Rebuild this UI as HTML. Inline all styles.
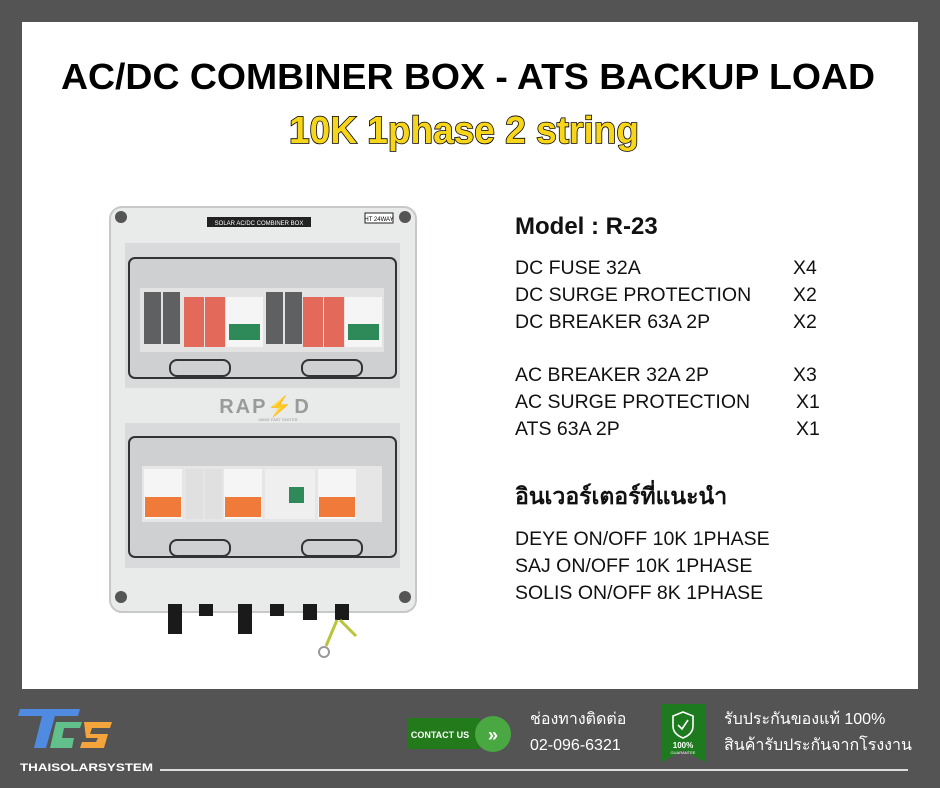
<!DOCTYPE html>
<html><head><meta charset="utf-8"><style>
html,body{margin:0;padding:0;background:#545454;}
svg{display:block}
text{font-family:"Liberation Sans","Noto Sans CJK SC",sans-serif;}
.th{font-family:"Liberation Sans","Noto Sans CJK SC","WenQuanYi Zen Hei",sans-serif;}
</style></head><body>
<svg width="940" height="788" viewBox="0 0 940 788" xmlns="http://www.w3.org/2000/svg">
<rect width="940" height="788" fill="#545454"/>
<rect x="22" y="22" width="896" height="667" fill="#fff"/>
<text x="468" y="89" text-anchor="middle" font-size="36" font-weight="bold" textLength="814" lengthAdjust="spacingAndGlyphs" fill="#000">AC/DC COMBINER BOX - ATS BACKUP LOAD</text>
<text x="464" y="143" text-anchor="middle" font-size="38" font-weight="bold" textLength="350" lengthAdjust="spacingAndGlyphs" fill="#f7d51b" stroke="#000" stroke-width="1.6" paint-order="stroke">10K 1phase 2 string</text>

<!-- box -->
<rect x="110" y="207" width="306" height="405" rx="12" fill="#e9eaea" stroke="#c7c8c8" stroke-width="2"/>
<circle cx="121" cy="217" r="6" fill="#555"/><circle cx="405" cy="217" r="6" fill="#555"/>
<circle cx="121" cy="597" r="6" fill="#555"/><circle cx="405" cy="597" r="6" fill="#555"/>
<rect x="207" y="217" width="104" height="10" fill="#222"/>
<text x="259" y="225" text-anchor="middle" font-size="6" fill="#fff">SOLAR AC/DC COMBINER BOX</text>
<rect x="365" y="213" width="28" height="10" fill="#fff" stroke="#222"/>
<text x="379" y="221" text-anchor="middle" font-size="6">HT 24WAY</text>
<rect x="125" y="243" width="275" height="145" fill="#d9dadb"/>
<rect x="129" y="258" width="267" height="120" rx="6" fill="#cfd0d1" stroke="#333" stroke-width="2"/>
<rect x="140" y="288" width="244" height="64" fill="#e3e3e3"/>
<g>
<rect x="144" y="292" width="17" height="52" fill="#5e6062"/><rect x="163" y="292" width="17" height="52" fill="#5e6062"/>
<rect x="184" y="297" width="20" height="50" fill="#e36a5a"/><rect x="205" y="297" width="20" height="50" fill="#e36a5a"/>
<rect x="226" y="297" width="37" height="50" fill="#f5f5f5"/><rect x="229" y="324" width="31" height="16" fill="#2f8a5a"/>
<rect x="266" y="292" width="17" height="52" fill="#5e6062"/><rect x="285" y="292" width="17" height="52" fill="#5e6062"/>
<rect x="303" y="297" width="20" height="50" fill="#e36a5a"/><rect x="324" y="297" width="20" height="50" fill="#e36a5a"/>
<rect x="345" y="297" width="37" height="50" fill="#f5f5f5"/><rect x="348" y="324" width="31" height="16" fill="#2f8a5a"/>
</g>
<rect x="170" y="360" width="60" height="16" rx="7" fill="none" stroke="#333" stroke-width="2"/>
<rect x="302" y="360" width="60" height="16" rx="7" fill="none" stroke="#333" stroke-width="2"/>
<text x="265" y="413" text-anchor="middle" font-size="20" font-weight="bold" fill="#9a9a9a" letter-spacing="2">RAP⚡D</text>
<text x="278" y="421" text-anchor="middle" font-size="4" fill="#999">MAKE FAST FASTER</text>
<rect x="125" y="423" width="275" height="145" fill="#d9dadb"/>
<rect x="129" y="437" width="267" height="120" rx="6" fill="#cfd0d1" stroke="#333" stroke-width="2"/>
<rect x="142" y="466" width="240" height="56" fill="#e6e6e6"/>
<g>
<rect x="144" y="469" width="38" height="50" fill="#f5f5f5"/><rect x="145" y="497" width="36" height="20" fill="#f07a3a"/>
<rect x="186" y="469" width="17" height="50" fill="#e0e0e0"/><rect x="205" y="469" width="17" height="50" fill="#e0e0e0"/>
<rect x="224" y="469" width="38" height="50" fill="#f5f5f5"/><rect x="225" y="497" width="36" height="20" fill="#f07a3a"/>
<rect x="265" y="469" width="50" height="50" fill="#efefef"/><rect x="289" y="487" width="15" height="16" fill="#2f8a5a"/>
<rect x="318" y="469" width="38" height="50" fill="#f5f5f5"/><rect x="319" y="497" width="36" height="20" fill="#f07a3a"/>
</g>
<rect x="170" y="540" width="60" height="16" rx="7" fill="none" stroke="#333" stroke-width="2"/>
<rect x="302" y="540" width="60" height="16" rx="7" fill="none" stroke="#333" stroke-width="2"/>
<g fill="#1a1a1a">
<rect x="168" y="604" width="14" height="30"/><rect x="199" y="604" width="14" height="12"/>
<rect x="238" y="604" width="14" height="30"/><rect x="270" y="604" width="14" height="12"/>
<rect x="303" y="604" width="14" height="16"/><rect x="335" y="604" width="14" height="16"/>
</g>
<path d="M337 620 L326 646 M340 620 L356 636" stroke="#b9c43a" stroke-width="3" fill="none"/>
<circle cx="324" cy="652" r="5" fill="none" stroke="#999" stroke-width="2"/>

<!-- specs -->
<text x="515" y="234" font-size="24" font-weight="bold" fill="#111">Model : R-23</text>
<g font-size="19.5" fill="#111">
<text x="515" y="274">DC FUSE 32A</text><text x="793" y="274">X4</text>
<text x="515" y="301">DC SURGE PROTECTION</text><text x="793" y="301">X2</text>
<text x="515" y="328">DC BREAKER 63A 2P</text><text x="793" y="328">X2</text>
<text x="515" y="381">AC BREAKER 32A 2P</text><text x="793" y="381">X3</text>
<text x="515" y="408">AC SURGE PROTECTION</text><text x="796" y="408">X1</text>
<text x="515" y="435">ATS 63A 2P</text><text x="796" y="435">X1</text>
</g>
<text class="th" x="515" y="504" font-size="23" font-weight="bold" fill="#111">อินเวอร์เตอร์ที่แนะนำ</text>
<g font-size="19.5" fill="#111">
<text x="515" y="545">DEYE ON/OFF 10K 1PHASE</text>
<text x="515" y="572">SAJ ON/OFF 10K 1PHASE</text>
<text x="515" y="599">SOLIS ON/OFF 8K 1PHASE</text>
</g>

<!-- footer -->
<path d="M20 709 H80 L78 716 H55 L46 748 H34 L42 716 H18 Z" fill="#4f8be0"/>
<path d="M56 722 H82 L80 728 H64 L62 738 H74 L72 748 H50 Z" fill="#62c08a"/>
<path d="M84 722 H112 L110 728 H92 L90 734 H108 L104 748 H80 L82 742 H96 L98 738 H86 Z" fill="#f3a43b"/>
<text x="20" y="771" font-size="11" font-weight="bold" fill="#fff" textLength="133" lengthAdjust="spacingAndGlyphs">THAISOLARSYSTEM</text>
<rect x="160" y="769" width="748" height="2" fill="#ddd"/>
<rect x="408" y="718" width="72" height="31" fill="#227a1a"/>
<text x="440" y="738" text-anchor="middle" font-size="9" font-weight="bold" fill="#fff">CONTACT US</text>
<ellipse cx="493" cy="734" rx="18" ry="18" fill="#4aa843"/>
<text x="493" y="741" text-anchor="middle" font-size="18" font-weight="bold" fill="#fff">»</text>
<text class="th" x="530" y="724" font-size="16" fill="#fff">ช่องทางติดต่อ</text>
<text x="530" y="750" font-size="16" fill="#fff">02-096-6321</text>
<path d="M662 704 H705 V762 L683 750 L662 762 Z" fill="#1e7a1e"/>
<path d="M683 712 L693 716 V726 Q693 734 683 738 Q673 734 673 726 V716 Z" fill="none" stroke="#fff" stroke-width="1.6"/>
<path d="M678 725 L682 729 L688 720" fill="none" stroke="#fff" stroke-width="1.6"/>
<text x="683" y="748" text-anchor="middle" font-size="8" font-weight="bold" fill="#fff">100%</text>
<text x="683" y="754" text-anchor="middle" font-size="4" fill="#fff">GUARANTEE</text>
<text class="th" x="724" y="724" font-size="16" fill="#fff">รับประกันของแท้ 100%</text>
<text class="th" x="724" y="750" font-size="16" fill="#fff">สินค้ารับประกันจากโรงงาน</text>
</svg>
</body></html>
